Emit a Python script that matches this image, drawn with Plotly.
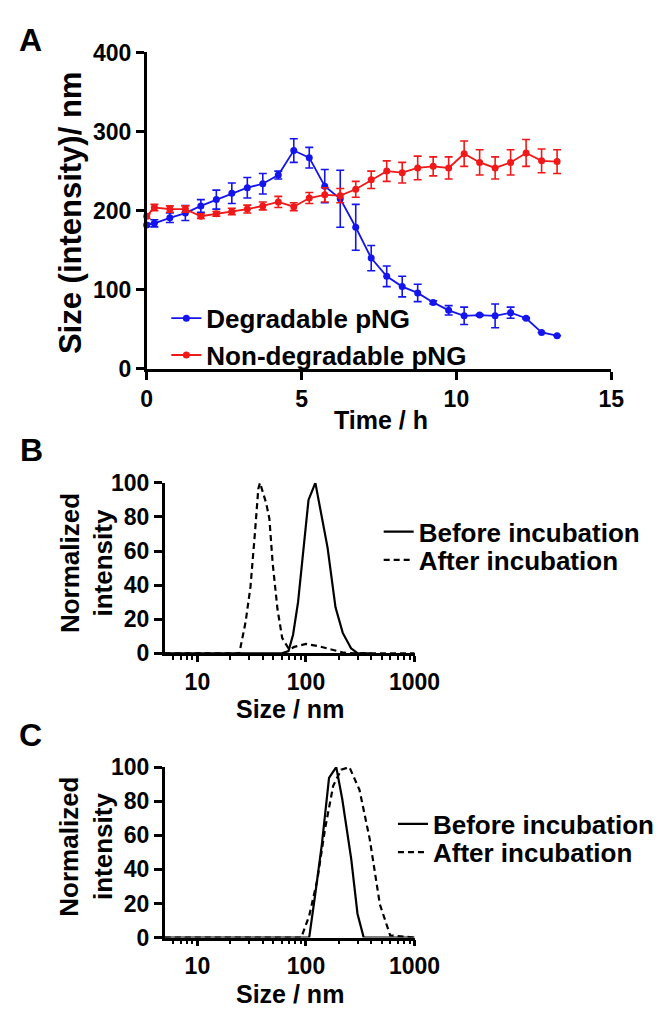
import math
import plotly.graph_objects as go

# ---------------- data ----------------
# Panel A: hydrodynamic size vs time
time_h = [0, 0.25, 0.75, 1.25, 1.75, 2.25, 2.75, 3.25, 3.75, 4.25, 4.75, 5.25, 5.75, 6.25,
          6.75, 7.25, 7.75, 8.25, 8.75, 9.25, 9.75, 10.25, 10.75, 11.25, 11.75, 12.25, 12.75, 13.25]
degradable = [182, 184, 191, 197, 206, 214, 222, 229, 234, 245, 276, 267, 231, 215,
              179, 140, 117, 104, 96, 84, 74, 67, 68, 67, 71, 64, 46, 42]
degradable_sd = [2, 4.5, 6, 9.5, 8, 12, 13, 13, 13, 5, 15, 13, 21, 36,
                 29, 16, 13, 13, 11, 2, 6, 11, 1, 15, 7, 1, 0, 0]
non_degradable = [193, 204, 202, 202, 193, 196, 199, 202, 206, 211, 205, 216, 220, 219,
                  227, 239, 250, 248, 254, 256, 254, 272, 261, 254, 261, 273, 263, 262]
non_degradable_sd = [3, 4, 4, 4, 3, 3, 4, 5, 5, 7, 5, 7, 9, 9,
                     10, 11, 13, 13, 15, 12, 14, 16, 16, 14, 16, 17, 15, 15]

# Panel B: size distributions (degradable)
b_before_size = [5, 60, 69, 76, 84.5, 95, 105.5, 122, 142, 158, 187, 218, 260, 300, 400]
b_before_int = [0, 0, 1.3, 10.9, 30, 62, 90, 100, 78, 62, 27, 12, 3, 0, 0]
b_after_size = [5, 24.3, 27.8, 30.8, 33.6, 36.4, 37.7, 43, 46, 49.3, 54.6, 60.4, 70,
                78, 100, 131, 171, 224, 284, 1000]
b_after_int = [0, 0, 18.5, 39, 68, 96.6, 100, 88, 79, 53, 26, 9, 2.3,
               3.8, 5.5, 4.2, 2.3, 0.4, 0, 0]

# Panel C: size distributions (non-degradable)
c_before_size = [5, 107, 122, 140, 163, 190, 216, 261, 298, 340, 1000]
c_before_int = [0, 0, 26, 54.7, 93.7, 100, 81, 46, 14, 0, 0]
c_after_size = [5, 90.4, 107, 127, 150, 178, 211, 251, 311, 386, 479, 596, 1000]
c_after_int = [0, 0, 12.8, 33.7, 64, 89, 98.5, 100, 86.6, 57.9, 19.5, 1.3, 0]

a_xticks = [0, 5, 10, 15]
a_yticks = [0, 100, 200, 300, 400]
dist_xticks = [10, 100, 1000]
dist_minor = [6, 7, 8, 9, 20, 30, 40, 50, 60, 70, 80, 90, 200, 300, 400, 500, 600, 700, 800, 900]
dist_yticks = [0, 20, 40, 60, 80, 100]

# ---------------- layout helpers ----------------
W, H = 669, 1015
FONT = "Liberation Sans, Arial, Helvetica, sans-serif"
BLUE = "#1414EE"
RED = "#F01818"


def fx(p):
    return p / W


def fy(p):
    return 1 - p / H


def bold(size):
    return dict(family=FONT, size=size, color="black", weight="bold")


fig = go.Figure()

# ---- Panel A ----
fig.add_trace(go.Scatter(
    x=time_h, y=degradable, name="Degradable pNG", mode="lines+markers",
    line=dict(color=BLUE, width=1.8), marker=dict(color=BLUE, size=7),
    error_y=dict(type="data", array=degradable_sd, color=BLUE, thickness=1.6, width=4),
    cliponaxis=False, xaxis="x", yaxis="y", legend="legend"))
fig.add_trace(go.Scatter(
    x=time_h, y=non_degradable, name="Non-degradable pNG", mode="lines+markers",
    line=dict(color=RED, width=1.8), marker=dict(color=RED, size=7),
    error_y=dict(type="data", array=non_degradable_sd, color=RED, thickness=1.6, width=4),
    cliponaxis=False, xaxis="x", yaxis="y", legend="legend"))

# ---- Panel B ----
fig.add_trace(go.Scatter(
    x=b_before_size, y=b_before_int, name="Before incubation", mode="lines",
    line=dict(color="black", width=2.2), xaxis="x2", yaxis="y2", legend="legend2"))
fig.add_trace(go.Scatter(
    x=b_after_size, y=b_after_int, name="After incubation", mode="lines",
    line=dict(color="black", width=2.2, dash="6px,4px"), xaxis="x2", yaxis="y2", legend="legend3"))

# ---- Panel C ----
fig.add_trace(go.Scatter(
    x=c_before_size, y=c_before_int, name="Before incubation", mode="lines",
    line=dict(color="black", width=2.2), xaxis="x3", yaxis="y3", legend="legend4"))
fig.add_trace(go.Scatter(
    x=c_after_size, y=c_after_int, name="After incubation", mode="lines",
    line=dict(color="black", width=2.2, dash="6px,4px"), xaxis="x3", yaxis="y3", legend="legend5"))

axis_common = dict(showline=True, linecolor="black", linewidth=2.5, ticks="outside",
                   tickcolor="black", tickwidth=2.5, ticklen=8, showgrid=False,
                   zeroline=False, tickfont=bold(23), fixedrange=True)
dist_x_common = dict(axis_common, ticklen=6)

A_X = (139.3, 627.3)
A_Y = (32.3, 357.0)
B_X = (158.3, 420.7)
B_Y = (474.0, 649.0)
C_X = (158.3, 420.7)
C_Y = (765.7, 940.7)

fig.update_layout(
    width=W, height=H, autosize=False,
    margin=dict(l=0, r=0, t=0, b=0),
    paper_bgcolor="white", plot_bgcolor="white",
    font=bold(22),
    xaxis=dict(domain=[fx(A_X[0]), fx(A_X[1])], range=[0, 15], tickvals=a_xticks,
               anchor="y", **axis_common),
    yaxis=dict(domain=[fy(A_Y[1]), fy(A_Y[0])], range=[0, 400], tickvals=a_yticks,
               anchor="x", **axis_common),
    xaxis2=dict(domain=[fx(B_X[0]), fx(B_X[1])], type="log",
                range=[math.log10(5), 3], tickvals=dist_xticks,
                ticktext=[str(v) for v in dist_xticks], anchor="y2",
                minor=dict(tickvals=dist_minor, ticks="outside", ticklen=4,
                           tickwidth=1.5, tickcolor="black"),
                **dist_x_common),
    yaxis2=dict(domain=[fy(B_Y[1]), fy(B_Y[0])], range=[0, 100], tickvals=dist_yticks,
                anchor="x2", **axis_common),
    xaxis3=dict(domain=[fx(C_X[0]), fx(C_X[1])], type="log",
                range=[math.log10(5), 3], tickvals=dist_xticks,
                ticktext=[str(v) for v in dist_xticks], anchor="y3",
                minor=dict(tickvals=dist_minor, ticks="outside", ticklen=4,
                           tickwidth=1.5, tickcolor="black"),
                **dist_x_common),
    yaxis3=dict(domain=[fy(C_Y[1]), fy(C_Y[0])], range=[0, 100], tickvals=dist_yticks,
                anchor="x3", **axis_common),
)

legend_common = dict(xanchor="left", yanchor="top", bgcolor="rgba(0,0,0,0)",
                     borderwidth=0, itemclick=False, itemdoubleclick=False)
fig.update_layout(
    legend=dict(x=fx(160), y=fy(281), font=bold(26), tracegroupgap=0, **legend_common),
    legend2=dict(x=fx(383), y=fy(500), font=bold(26), **legend_common),
    legend3=dict(x=fx(383), y=fy(529), font=bold(26), **legend_common),
    legend4=dict(x=fx(398), y=fy(800), font=bold(26), **legend_common),
    legend5=dict(x=fx(398), y=fy(829), font=bold(26), **legend_common),
)

annotations = [
    dict(text="A", x=fx(17), y=fy(20), font=bold(32)),
    dict(text="B", x=fx(18), y=fy(440), font=bold(32)),
    dict(text="C", x=fx(17), y=fy(733), font=bold(32)),
    dict(text="Size (intensity)/ nm", x=fx(60), y=fy(197), textangle=-90, font=bold(31)),
    dict(text="Time / h", x=fx(385), y=fy(410), font=bold(25)),
    dict(text="Normalized<br>intensity", x=fx(76), y=fy(556), textangle=-90, font=bold(26)),
    dict(text="Size / nm", x=fx(290), y=fy(706), font=bold(25)),
    dict(text="Normalized<br>intensity", x=fx(76), y=fy(847), textangle=-90, font=bold(26)),
    dict(text="Size / nm", x=fx(290), y=fy(999), font=bold(25)),
]
for a in annotations:
    a.update(xref="paper", yref="paper", showarrow=False, xanchor="center", yanchor="middle")
fig.update_layout(annotations=annotations)

fig.write_html("out.html")
